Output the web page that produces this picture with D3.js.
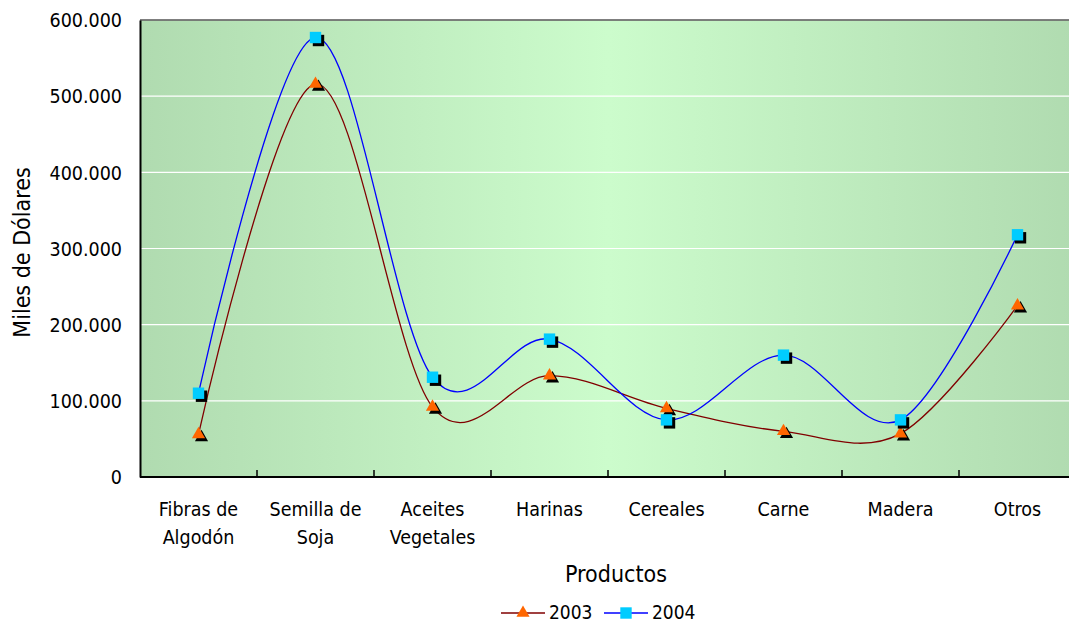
<!DOCTYPE html>
<html><head><meta charset="utf-8">
<script src="https://cdn.jsdelivr.net/npm/d3@7"></script>
<style>
html,body{margin:0;padding:0;background:#fff;overflow:hidden;}
text{font-family:"DejaVu Sans Condensed","Liberation Sans",Arial,sans-serif;fill:#000;}
</style></head>
<body><svg id="c" width="1069" height="623"></svg>
<script>
const categories = [["Fibras de","Algodón"],["Semilla de","Soja"],["Aceites","Vegetales"],["Harinas"],["Cereales"],["Carne"],["Madera"],["Otros"]];
const series2003 = [56000, 516000, 92000, 133000, 90000, 60000, 57000, 225000];
const series2004 = [110000, 577000, 131000, 181000, 75000, 160000, 75000, 318000];
const yTicks = [0,100000,200000,300000,400000,500000,600000];
const seriesNames = ["2003","2004"];

const svg = d3.select("#c");
const L=140, T=20, R=1076, B=477;
const x = d3.scaleBand().domain(d3.range(categories.length)).range([L,R]);
const y = d3.scaleLinear().domain([0,600000]).range([B,T]);
const fmt = v => v===0 ? "0" : d3.format(",")(v).replace(/,/g,".");

const defs = svg.append("defs");
const g = defs.append("linearGradient").attr("id","bg").attr("x1","0").attr("x2","1").attr("y1","0").attr("y2","0");
g.append("stop").attr("offset","0").attr("stop-color","#b0dbb0");
g.append("stop").attr("offset","0.5").attr("stop-color","#ccfccc");
g.append("stop").attr("offset","1").attr("stop-color","#b0dbb0");
svg.append("rect").attr("x",L).attr("y",T).attr("width",R-L).attr("height",B-T).attr("fill","url(#bg)");

// gridlines
svg.append("g").selectAll("line").data(yTicks.filter(d=>d>0)).join("line")
  .attr("x1",L).attr("x2",R).attr("y1",d=>y(d)).attr("y2",d=>y(d))
  .attr("stroke","#ffffff").attr("stroke-width",1.2);
// top border
svg.append("line").attr("x1",L).attr("x2",R).attr("y1",T).attr("y2",T).attr("stroke","#555").attr("stroke-width",1.5);

// y axis
const ya = svg.append("g").attr("transform",`translate(${L},0)`)
  .call(d3.axisLeft(y).tickValues(yTicks).tickFormat(fmt).tickSize(0).tickPadding(18));
ya.select(".domain").attr("stroke","#000").attr("stroke-width",2);
ya.selectAll("text").style("font-size","19.5px").attr("dy","0.35em");

// x axis
svg.append("line").attr("x1",L).attr("x2",R).attr("y1",B).attr("y2",B).attr("stroke","#000").attr("stroke-width",2);
svg.append("g").selectAll("line").data(d3.range(1,categories.length)).join("line")
  .attr("x1",d=>x(d)).attr("x2",d=>x(d)).attr("y1",B).attr("y2",B-7).attr("stroke","#000").attr("stroke-width",1.5);
const cl = svg.append("g").selectAll("text").data(categories).join("text")
  .attr("text-anchor","middle").style("font-size","19.5px")
  .attr("x",(d,i)=>x(i)+x.bandwidth()/2).attr("y",516);
cl.selectAll("tspan").data(d=>d).join("tspan")
  .attr("x",function(){return d3.select(this.parentNode).attr("x");})
  .attr("dy",(d,i)=>i===0?0:28).text(d=>d);

// titles
svg.append("text").attr("x",616).attr("y",582).attr("text-anchor","middle").style("font-size","23px").text("Productos");
svg.append("text").attr("transform",`translate(30,${(T+B)/2+4}) rotate(-90)`).attr("text-anchor","middle").style("font-size","23px").text("Miles de Dólares");

// lines
const cx = i => x(i)+x.bandwidth()/2;
const line = d3.line().x((d,i)=>cx(i)).y(d=>y(d)).curve(d3.curveCatmullRom.alpha(0));
svg.append("path").attr("d",line(series2003)).attr("fill","none").attr("stroke","#800000").attr("stroke-width",1.3);
svg.append("path").attr("d",line(series2004)).attr("fill","none").attr("stroke","#0000ff").attr("stroke-width",1.3);

const tri = d3.symbol().type(d3.symbolTriangle).size(75);
const sq = d3.symbol().type(d3.symbolSquare).size(130);
function markers(data, gen, color){
  const gg = svg.append("g");
  gg.selectAll("path.s").data(data).join("path").attr("class","s").attr("d",gen)
    .attr("transform",(d,i)=>`translate(${cx(i)+3},${y(d)+3})`).attr("fill","#000");
  gg.selectAll("path.m").data(data).join("path").attr("class","m").attr("d",gen)
    .attr("transform",(d,i)=>`translate(${cx(i)},${y(d)})`).attr("fill",color);
}
markers(series2003, tri, "#ff6600");
markers(series2004, sq, "#00ccff");

// legend
const lg = svg.append("g");
const items = [{n:seriesNames[0],c:"#800000",m:tri,f:"#ff6600",x0:501},{n:seriesNames[1],c:"#0000ff",m:sq,f:"#00ccff",x0:604}];
items.forEach(it=>{
  lg.append("line").attr("x1",it.x0).attr("x2",it.x0+44).attr("y1",613).attr("y2",613).attr("stroke",it.c).attr("stroke-width",1.3);
  lg.append("path").attr("d",it.m).attr("transform",`translate(${it.x0+22},613)`).attr("fill",it.f);
  lg.append("text").attr("x",it.x0+48).attr("y",619).style("font-size","19px").text(it.n);
});
</script></body></html>
